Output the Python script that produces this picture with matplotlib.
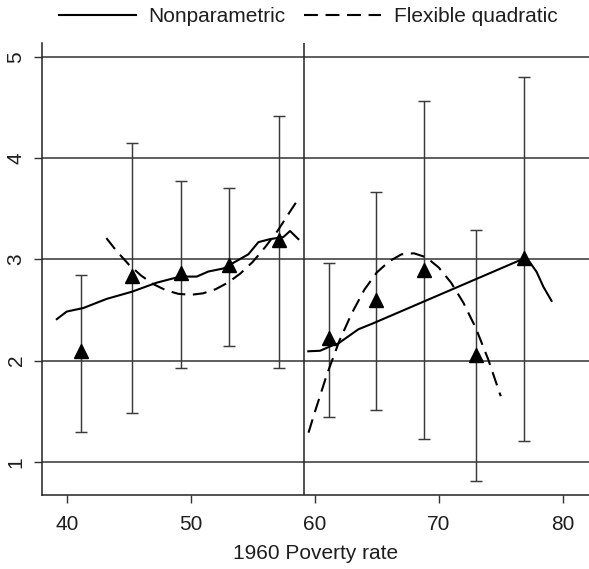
import matplotlib
matplotlib.use('Agg')
import matplotlib.pyplot as plt
import numpy as np

plt.rcParams['font.family'] = ['Liberation Sans', 'DejaVu Sans']
plt.rcParams['lines.scale_dashes'] = False

# binned means with confidence intervals
bin_x = [41.13, 45.24, 49.19, 53.09, 57.15, 61.13, 64.97, 68.80, 72.98, 76.90]
bin_y = [2.10, 2.84, 2.865, 2.94, 3.19, 2.22, 2.60, 2.90, 2.06, 3.01]
ci_lo = [1.30, 1.485, 1.925, 2.15, 1.925, 1.44, 1.515, 1.225, 0.81, 1.205]
ci_hi = [2.845, 4.15, 3.775, 3.70, 4.41, 2.96, 3.665, 4.565, 3.29, 4.80]

# nonparametric fit, left and right of the cutoff
np_left_x = [39.2, 40.0, 41.34, 43.22, 45.24, 47.26, 49.14, 50.48, 51.42, 52.63,
             54.65, 55.46, 56.4, 57.47, 58.01, 58.68]
np_left_y = [2.41, 2.485, 2.52, 2.61, 2.68, 2.77, 2.83, 2.83, 2.88, 2.91,
             3.05, 3.17, 3.20, 3.22, 3.28, 3.20]
np_right_x = [59.48, 60.43, 61.5, 61.9, 62.71, 63.52, 64.73, 76.9, 77.36, 77.9, 78.44, 79.1]
np_right_y = [2.093, 2.098, 2.155, 2.17, 2.24, 2.31, 2.37, 3.01, 2.97, 2.875, 2.73, 2.59]

# flexible quadratic fit
fq_left_x = [43.2, 44, 45, 46, 47, 48, 49, 50, 51, 52, 53, 54, 55, 56, 57, 58, 58.7]
fq_left_y = [3.21, 3.085, 2.95, 2.84, 2.755, 2.695, 2.66, 2.65, 2.665, 2.705,
             2.77, 2.86, 2.975, 3.12, 3.28, 3.47, 3.60]
fq_right_x = [59.5, 60, 61, 62, 63, 64, 65, 66, 67, 68, 69, 70, 71, 72, 73, 74, 75]
fq_right_y = [1.29, 1.49, 1.87, 2.20, 2.47, 2.70, 2.87, 2.98, 3.05, 3.06,
              3.02, 2.92, 2.77, 2.57, 2.32, 2.01, 1.65]

cutoff = 59.15
yticks = [1, 2, 3, 4, 5]
xticks = [40, 50, 60, 70, 80]

txt = '#1e1e1e'
grid = '#333333'

fig = plt.figure(figsize=(5.89, 5.69), dpi=100)
ax = fig.add_axes([0.0718, 0.1292, 1 - 0.0718, 0.9244 - 0.1292])

for yv in yticks:
    ax.axhline(yv, color=grid, lw=1.1, zorder=1)
ax.axvline(cutoff, color='#222222', lw=1.1, zorder=1)

bx = np.array(bin_x)
by = np.array(bin_y)
yerr = [by - np.array(ci_lo), np.array(ci_hi) - by]
ax.errorbar(bx, by, yerr=yerr, fmt='none', ecolor='#3a3a3a', elinewidth=1.05,
            capsize=4.5, capthick=1.05, zorder=2)

l1, = ax.plot(np_left_x, np_left_y, color='black', lw=1.5, zorder=3,
              label='Nonparametric')
ax.plot(np_right_x, np_right_y, color='black', lw=1.5, zorder=3)
l2, = ax.plot(fq_left_x, fq_left_y, color='black', lw=1.5, dashes=(10, 5.5),
              zorder=3, label='Flexible quadratic')
ax.plot(fq_right_x, fq_right_y, color='black', lw=1.5, dashes=(10, 5.5), zorder=3)

ax.plot(bx, by, linestyle='none', marker='^', markersize=9.5, color='black', zorder=4)

ax.set_xlim(38.03, 82.12)
ax.set_ylim(0.67, 5.135)
ax.set_xticks(xticks)
ax.set_yticks(yticks)
ax.set_xticklabels([str(v) for v in xticks], fontsize=15, color=txt)
ax.set_yticklabels([str(v) for v in yticks], fontsize=15, color=txt,
                   rotation=90, va='center')
ax.tick_params(direction='out', length=6, width=1.0, color='#333333')
ax.tick_params(axis='x', pad=8)
ax.tick_params(axis='y', pad=6)

for s in ['top', 'right']:
    ax.spines[s].set_visible(False)
for s in ['left', 'bottom']:
    ax.spines[s].set_color('#222222')
    ax.spines[s].set_linewidth(1.1)

ax.set_xlabel('1960 Poverty rate', fontsize=15, color=txt, labelpad=7)

fig.legend(handles=[l1, l2], loc='center', bbox_to_anchor=(308 / 589, 1 - 17 / 569),
           ncol=2, frameon=False, fontsize=15, handlelength=3.7,
           handletextpad=0.6, columnspacing=0.9, labelcolor=txt)

fig.savefig('out.png', dpi=100)
